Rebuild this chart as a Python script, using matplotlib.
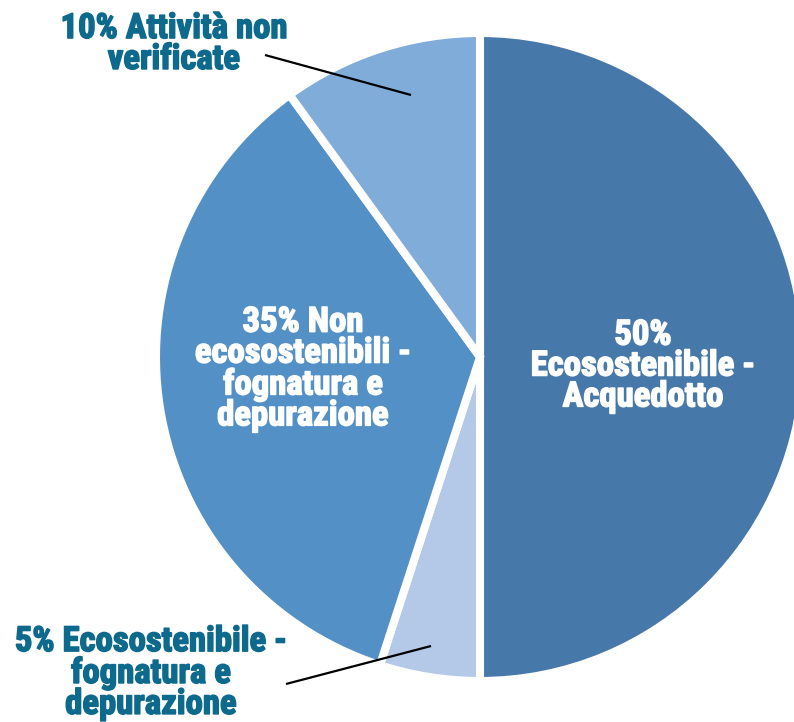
import matplotlib
matplotlib.use('Agg')
import matplotlib.pyplot as plt
import matplotlib.patheffects as pe
from matplotlib import font_manager as fm

# Ripartizione degli investimenti
labels = ['50%\nEcosostenibile -\nAcquedotto',
          '5% Ecosostenibile -\nfognatura e\ndepurazione',
          '35% Non\necosostenibili -\nfognatura e\ndepurazione',
          '10% Attività non\nverificate']
shares = [50, 5, 35, 10]
colors = ['#4679A9', '#B4C9E8', '#5390C6', '#80ACD9']


def pick_font():
    # narrow bold face if one is installed
    for name in ['Roboto Condensed', 'Liberation Sans Narrow', 'DejaVu Sans Condensed']:
        try:
            fm.findfont(fm.FontProperties(family=name, weight='bold'),
                        fallback_to_default=False)
            return name
        except ValueError:
            pass
    return 'DejaVu Sans'


FONT = pick_font()
W, H = 794, 722

fig = plt.figure(figsize=(W / 100, H / 100), dpi=100)
ax = fig.add_axes([0, 0, 1, 1])

# work in pixel units, y measured from the bottom
cx, cy, r = 480, H - 357, 324
wedges, _ = ax.pie(shares, colors=colors, startangle=90, counterclock=False,
                   center=(cx, cy), radius=r,
                   wedgeprops=dict(edgecolor='white', linewidth=5.8))
ax.set_xlim(0, W)
ax.set_ylim(0, H)
ax.set_aspect('equal')
ax.axis('off')

# label centres (pixels from top-left) and text colours
label_pos = [(643, 366), (151, 673), (303, 369), (174, 44)]
text_colors = ['white', '#0E6A8C', 'white', '#0E6A8C']
for lab, (px, py), tc in zip(labels, label_pos, text_colors):
    # thin outline in the same colour gives a heavier stroke
    ax.text(px, H - py, lab, ha='center', va='center', multialignment='center',
            color=tc, fontsize=25, fontweight='bold', family=FONT,
            linespacing=0.92, zorder=5,
            path_effects=[pe.withStroke(linewidth=1.1, foreground=tc)])

# leader lines for the two small slices
leaders = [((431, 646), (286, 684)), ((411, 95), (265, 55))]
for (x0, y0), (x1, y1) in leaders:
    ax.plot([x0, x1], [H - y0, H - y1], color='black', lw=1.6,
            solid_capstyle='butt', zorder=6)

fig.savefig('out.png', dpi=100)
